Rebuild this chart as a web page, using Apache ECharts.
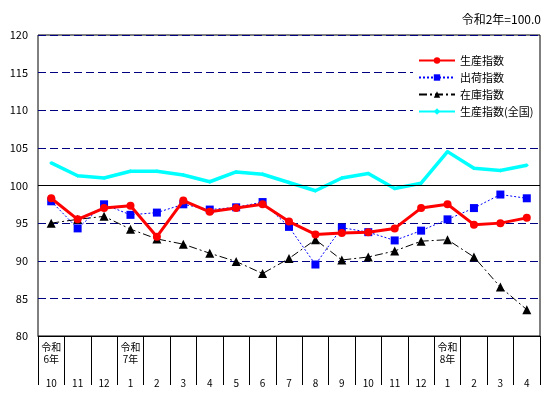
<!DOCTYPE html><html><head><meta charset="utf-8"><script src="https://cdn.jsdelivr.net/npm/echarts@6/dist/echarts.min.js"></script></head><body style="margin:0"><div id="c" style="width:554px;height:405px"></div><script>
const months=['10','11','12','1','2','3','4','5','6','7','8','9','10','11','12','1','2','3','4'];
const eraLabels=['令和\n6年','','','令和\n7年','','','','','','','','','','','','令和\n8年','','',''];
const production=[98.3,95.5,97.0,97.3,93.2,98.0,96.5,97.0,97.5,95.2,93.5,93.7,93.8,94.3,97.0,97.5,94.8,95.0,95.7];
const shipment=[97.9,94.3,97.5,96.1,96.4,97.5,96.8,97.1,97.8,94.5,89.5,94.4,93.8,92.7,94.0,95.5,97.0,98.8,98.3];
const inventory=[95.0,95.5,95.9,94.2,92.9,92.2,91.0,89.9,88.3,90.3,92.8,90.1,90.5,91.3,92.6,92.8,90.5,86.5,83.5];
const national=[103.0,101.3,101.0,101.9,101.9,101.4,100.5,101.8,101.5,100.4,99.3,101.0,101.6,99.6,100.3,104.5,102.3,102.0,102.7];
const cats=months.map((m,i)=>eraLabels[i]+'|'+m);
const ch=echarts.init(document.getElementById('c'));
const f='"MS PGothic","Noto Sans CJK JP",sans-serif';
ch.setOption({animation:false,textStyle:{fontFamily:f},
title:{text:'令和2年=100.0',right:8,top:8,textStyle:{fontSize:12,fontWeight:'normal',color:'#000',fontFamily:f}},
legend:{orient:'vertical',left:413,top:50,itemGap:6,itemWidth:36,itemHeight:8,textStyle:{fontSize:11,color:'#000'},backgroundColor:'#fff',
data:['生産指数','出荷指数','在庫指数','生産指数(全国)']},
grid:{left:38,right:14,top:35,bottom:69,show:true,borderColor:'#000',borderWidth:1},
xAxis:{type:'category',data:cats,boundaryGap:true,axisLine:{show:true,lineStyle:{color:'#000'}},
axisTick:{show:true,interval:0,length:49,lineStyle:{color:'#000',width:1}},
axisLabel:{interval:0,margin:5,color:'#000',fontSize:10,lineHeight:12,align:'center',
formatter:v=>{const [e,m]=v.split('|');return (e?e:'\n')+'\n\n'+m;}}},
yAxis:{type:'value',min:80,max:120,interval:5,axisLine:{show:false},axisTick:{show:false},axisLabel:{color:'#000',fontSize:11,margin:10},
splitLine:{lineStyle:{color:'#000080',type:[8,4],width:1}}},
series:[
{name:'生産指数',type:'line',data:production,color:'#f00',lineStyle:{width:3},symbol:'circle',symbolSize:8,z:5,
markLine:{silent:true,symbol:'none',label:{show:false},lineStyle:{color:'#000',type:'solid',width:1},data:[{yAxis:100}]}},
{name:'出荷指数',type:'line',data:shipment,color:'#00f',lineStyle:{width:1,type:[2,2]},symbol:'rect',symbolSize:8,z:4},
{name:'在庫指数',type:'line',data:inventory,color:'#000',lineStyle:{width:1,type:[8,3,2,3]},symbol:'triangle',symbolSize:9,z:3},
{name:'生産指数(全国)',type:'line',data:national,color:'#0ff',lineStyle:{width:3.5},symbol:'diamond',symbolSize:4,z:2}
]});
</script></body></html>
